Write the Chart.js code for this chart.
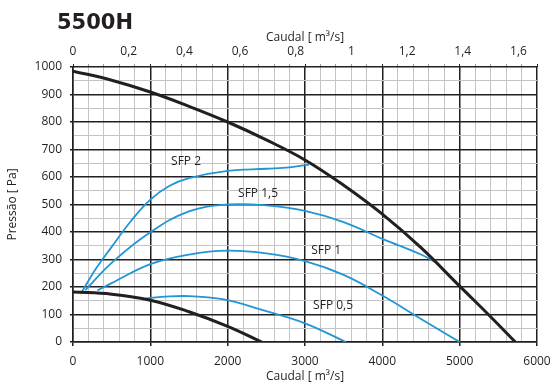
<!DOCTYPE html>
<html>
<head>
<meta charset="utf-8">
<script src="https://cdn.jsdelivr.net/npm/chart.js@4/dist/chart.umd.min.js"></script>
<style>
  html, body { margin: 0; padding: 0; background: #fff; }
  #wrap { width: 553px; height: 387px; position: relative; }
</style>
</head>
<body>
<div id="wrap"><canvas id="chart"></canvas></div>
<script>
// flow in m3/h, pressure in Pa
const fanHighQ = [0, 500, 1000, 1500, 2000, 2500, 3000, 3500, 4000, 4500, 5000, 5400, 5720];
const fanHighP = [985, 952, 909, 857, 800, 735, 662, 570, 465, 343, 203, 92, 0];

const fanLowQ = [0, 500, 1000, 1500, 2000, 2440];
const fanLowP = [182, 174, 152, 110, 57, 0];

const sfp2Q = [120, 300, 500, 750, 1000, 1250, 1500, 2000, 2500, 2800, 3050];
const sfp2P = [185, 268, 346, 440, 518, 568, 596, 622, 630, 635, 645];

const sfp15Q = [160, 500, 1000, 1500, 2000, 2500, 3000, 3500, 4000, 4500, 4730];
const sfp15P = [189, 288, 399, 475, 500, 497, 477, 436, 375, 318, 284];

const sfp1Q = [315, 500, 1000, 1500, 2000, 2500, 3000, 3500, 4000, 4500, 5000];
const sfp1P = [187, 214, 283, 318, 332, 322, 294, 244, 169, 84, 0];

const sfp05Q = [890, 1000, 1250, 1500, 1750, 2000, 2500, 3000, 3530];
const sfp05P = [155, 160, 166, 167, 162, 152, 112, 68, 0];

const curveLabels = ['SFP 2', 'SFP 1,5', 'SFP 1', 'SFP 0,5'];
const labelQ = [1462, 2393, 3273, 3363];
const labelP = [655, 538, 331, 131];

const flowMax = 6000;
const ink = '#231f20';
const blue = '#2196d6';
const clear = 'rgba(0,0,0,0)';

Chart.defaults.font.family = '"Open Sans", sans-serif';
Chart.defaults.font.size = 12;
Chart.defaults.color = ink;

function pts(qs, ps) {
  return qs.map((q, i) => ({x: q, y: ps[i]}));
}

function curve(qs, ps, color, width) {
  return {
    data: pts(qs, ps),
    borderColor: color,
    borderWidth: width,
    pointRadius: 0,
    fill: false,
    tension: 0.4,
    xAxisID: 'x',
    yAxisID: 'y'
  };
}

// title + curve names
const textPlugin = {
  id: 'texts',
  afterDatasetsDraw(chart) {
    const {ctx, scales: {x, y}} = chart;
    ctx.save();
    ctx.fillStyle = ink;
    ctx.font = '12px "Open Sans", sans-serif';
    ctx.textAlign = 'center';
    ctx.textBaseline = 'middle';
    curveLabels.forEach((t, i) => {
      ctx.fillText(t, x.getPixelForValue(labelQ[i]), y.getPixelForValue(labelP[i]));
    });
    ctx.font = 'bold 21px "DejaVu Sans", sans-serif';
    ctx.textAlign = 'left';
    ctx.textBaseline = 'alphabetic';
    ctx.fillText('5500H', 57, 29);
    ctx.restore();
  }
};

const isMajor = (v, step) => Math.abs(v / step - Math.round(v / step)) < 1e-6;

// fixed box sizes so the plot sits where the reference has it
function fixX(h) {
  return s => { s.height = h; s.paddingLeft = 0; s.paddingRight = 0; };
}

// top axis: labelled m3/s ticks plus little marks over each grid column
function topTicks(s) {
  const t = [];
  for (let i = 0; i <= 8; i++) t.push({value: i * 0.2, kind: 'label'});
  for (let q = 0; q <= flowMax; q += 200) t.push({value: q / 3600, kind: 'mark', q: q});
  t.sort((a, b) => a.value - b.value);
  s.ticks = t;
}

new Chart(document.getElementById('chart'), {
  type: 'line',
  data: {
    datasets: [
      curve(fanHighQ, fanHighP, ink, 3),
      curve(fanLowQ, fanLowP, ink, 3),
      curve(sfp2Q, sfp2P, blue, 1.8),
      curve(sfp15Q, sfp15P, blue, 1.8),
      curve(sfp1Q, sfp1P, blue, 1.8),
      curve(sfp05Q, sfp05P, blue, 1.8)
    ]
  },
  options: {
    responsive: true,
    maintainAspectRatio: false,
    animation: false,
    layout: { padding: { left: 0, right: 16, top: 0, bottom: 0 } },
    plugins: { legend: { display: false }, tooltip: { enabled: false } },
    scales: {
      x: {
        type: 'linear',
        position: 'bottom',
        min: 0,
        max: flowMax,
        afterFit: fixX(45),
        ticks: {
          stepSize: 200,
          autoSkip: false,
          maxRotation: 0,
          padding: 8,
          callback: v => isMajor(v, 1000) ? String(v) : ''
        },
        grid: {
          color: c => isMajor(c.tick.value, 1000) ? ink : '#c4c4c4',
          lineWidth: c => isMajor(c.tick.value, 1000) ? 1.5 : 1,
          tickColor: c => isMajor(c.tick.value, 1000) ? ink : clear,
          tickLength: 4
        },
        border: { color: ink, width: 1.5 },
        title: { display: true, text: 'Caudal [ m³/s]', padding: { top: 0, bottom: 3 } }
      },
      x2: {
        type: 'linear',
        position: 'top',
        min: 0,
        max: flowMax / 3600,
        afterFit: fixX(67),
        afterBuildTicks: topTicks,
        ticks: {
          autoSkip: false,
          maxRotation: 0,
          padding: 5,
          callback: (v, i, t) => t[i].kind === 'label' ? String(Math.round(v * 10) / 10).replace('.', ',') : ''
        },
        grid: {
          drawOnChartArea: false,
          drawTicks: true,
          tickLength: 3,
          tickColor: c => c.tick && c.tick.kind === 'mark' ? (isMajor(c.tick.q, 1000) ? ink : '#9a9a9a') : clear,
          tickWidth: 1
        },
        border: { display: false },
        title: { display: true, text: 'Caudal [ m³/s]', padding: { top: 30, bottom: 0 } }
      },
      y: {
        type: 'linear',
        min: 0,
        max: 1000,
        afterFit: s => { s.width = 73; },
        ticks: {
          stepSize: 50,
          autoSkip: false,
          padding: 8,
          callback: v => isMajor(v, 100) ? String(v) : ''
        },
        grid: {
          color: c => isMajor(c.tick.value, 100) ? ink : '#c4c4c4',
          lineWidth: c => isMajor(c.tick.value, 100) ? 1.5 : 1,
          tickColor: c => isMajor(c.tick.value, 100) ? ink : clear,
          tickLength: 3
        },
        border: { color: ink, width: 1.5 },
        title: { display: true, text: 'Pressão [ Pa]', padding: { top: 5, bottom: 0 } }
      }
    }
  },
  plugins: [textPlugin]
});
</script>
</body>
</html>
